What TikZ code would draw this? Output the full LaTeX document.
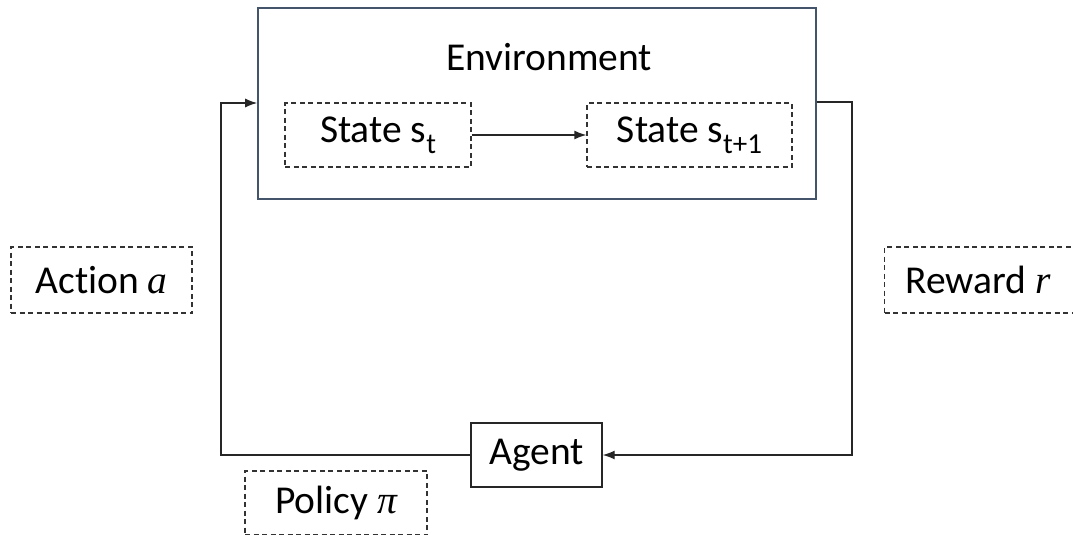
\documentclass[tikz,border=0pt]{standalone}
\usepackage{fontspec}
\setmainfont{Carlito}[Ligatures=NoCommon]
\newfontfamily\varfont{Liberation Serif}
\usetikzlibrary{arrows.meta}
\definecolor{envblue}{HTML}{44546A}
\newcommand{\lowsub}[1]{\raisebox{-0.28em}{\fontsize{29}{30}\selectfont #1}}
\tikzset{
  bigtext/.style={font=\fontsize{39.5}{42}\selectfont},
  dbox/.style={draw=black!80, dashed, dash pattern=on 5pt off 3.5pt, line width=1.3pt, inner sep=0pt, bigtext},
  sbox/.style={draw=black!85, line width=1.3pt, inner sep=0pt, bigtext},
  conn/.style={draw=black!85, line width=1.3pt, -{Latex[length=12pt,width=9pt]}}
}
\begin{document}
\begin{tikzpicture}[x=1pt,y=-1pt]
\useasboundingbox (0,0) rectangle (1073,535);
\node[draw=envblue, line width=1.6pt, minimum width=558pt, minimum height=191pt, inner sep=0pt] (env) at (537,103.5) {};
\node[bigtext] (envt) at (549,57) {Environment};
\node[dbox, minimum width=186pt, minimum height=64pt] (st) at (378,135) {State s\lowsub{t}};
\node[dbox, minimum width=205pt, minimum height=64pt] (st1) at (689.5,135) {State s\lowsub{t+1}};
\node[dbox, minimum width=181pt, minimum height=66pt] (act) at (101.5,280) {Action {\varfont\itshape a}};
\node[dbox, minimum height=66pt, anchor=west, inner xsep=21pt] (rew) at (884,280) {Reward {\varfont\itshape r}\rule{30pt}{0pt}};
\node[sbox, minimum width=131pt, minimum height=64pt] (ag) at (536.5,455) {Agent};
\node[dbox, minimum width=182pt, minimum height=64pt] (pol) at (336,503) {Policy {\varfont\itshape π}};
\coordinate (lc) at (221,103);
\coordinate (rc) at (852,102);
\draw[conn] (st.east) -- (st1.west);
\draw[conn] (ag.west) -| (lc) -- (env.west |- lc);
\draw[conn] (env.east |- rc) -- (rc) |- (ag.east);
\end{tikzpicture}
\end{document}
